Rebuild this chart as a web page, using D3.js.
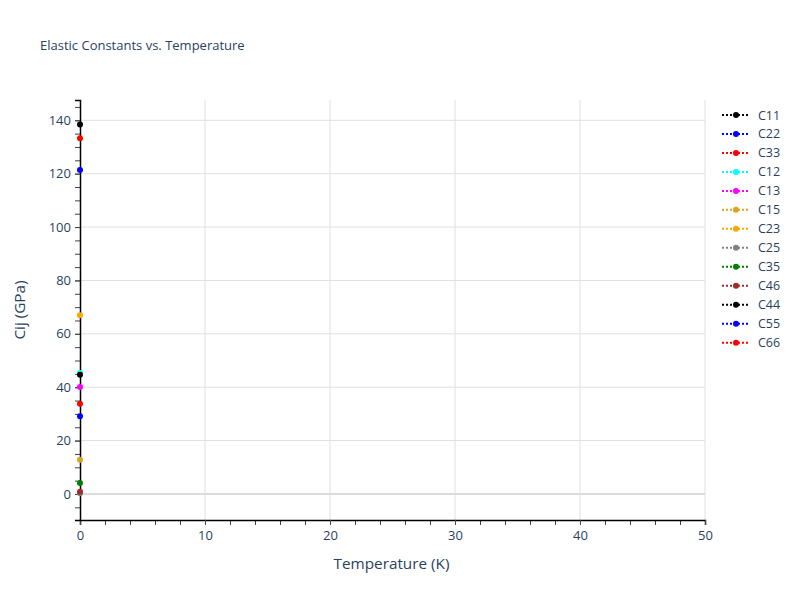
<!DOCTYPE html>
<html>
<head>
<meta charset="utf-8">
<script src="https://cdn.jsdelivr.net/npm/d3@7"></script>
<style>
  body { margin: 0; background: #fff; }
  text { font-family: "Open Sans", "Noto Sans", sans-serif; fill: #2a3f5f; }
</style>
</head>
<body>
<script>
// chart data
var temperature = [0];
var seriesNames = ["C11", "C22", "C33", "C12", "C13", "C15", "C23", "C25", "C35", "C46", "C44", "C55", "C66"];
var seriesColors = ["black", "blue", "red", "cyan", "magenta", "goldenrod", "orange", "gray", "green", "brown", "black", "blue", "red"];
var C11 = [138.4], C22 = [121.4], C33 = [133.3], C12 = [45.3], C13 = [40.1],
    C15 = [12.8], C23 = [67.0], C25 = [0.3], C35 = [4.1], C46 = [0.8],
    C44 = [44.7], C55 = [29.1], C66 = [33.8];
var seriesValues = [C11, C22, C33, C12, C13, C15, C23, C25, C35, C46, C44, C55, C66];
var xTicks = [0, 10, 20, 30, 40, 50];
var yTicks = [0, 20, 40, 60, 80, 100, 120, 140];

var W = 800, H = 600;
var margin = {top: 100, right: 95, bottom: 80, left: 80};
var width = W - margin.left - margin.right,
    height = H - margin.top - margin.bottom;

var svg = d3.select("body").append("svg")
  .attr("width", W).attr("height", H);

var x = d3.scaleLinear().domain([0, 50]).range([0, width]);
var y = d3.scaleLinear().domain([-9.75, 147.6]).range([height, 0]);

var g = svg.append("g").attr("transform", "translate(" + margin.left + "," + margin.top + ")");

// grid lines
g.selectAll("line.xgrid").data(xTicks.slice(1)).enter().append("line")
  .attr("x1", d => x(d)).attr("x2", d => x(d))
  .attr("y1", 0).attr("y2", height)
  .attr("stroke", "#e0e0e0").attr("stroke-width", 1);
g.selectAll("line.ygrid").data(yTicks.slice(1)).enter().append("line")
  .attr("x1", 0).attr("x2", width)
  .attr("y1", d => y(d)).attr("y2", d => y(d))
  .attr("stroke", "#e0e0e0").attr("stroke-width", 1);
// zero line
g.append("line")
  .attr("x1", 0).attr("x2", width)
  .attr("y1", y(0)).attr("y2", y(0))
  .attr("stroke", "#dcdcdc").attr("stroke-width", 2);

// minor ticks
var xMinor = d3.range(0, 50.01, 2);
var yMinor = d3.range(-5, 146, 5);
g.append("g").attr("transform", "translate(0," + height + ")")
  .call(d3.axisBottom(x).tickValues(xMinor).tickSize(5).tickFormat(""))
  .call(a => a.select(".domain").remove())
  .selectAll("line").attr("stroke", "#444");
g.append("g")
  .call(d3.axisLeft(y).tickValues(yMinor).tickSize(5).tickFormat(""))
  .call(a => a.select(".domain").remove())
  .selectAll("line").attr("stroke", "#444");

// axes
var xAxis = g.append("g").attr("transform", "translate(0," + height + ")")
  .call(d3.axisBottom(x).tickValues(xTicks).tickSize(5).tickPadding(6));
var yAxis = g.append("g")
  .call(d3.axisLeft(y).tickValues(yTicks).tickSize(5).tickPadding(4));
[xAxis, yAxis].forEach(function(a) {
  a.select(".domain").attr("stroke", "black").attr("stroke-width", 1.5);
  a.selectAll(".tick line").attr("stroke", "#444");
  a.selectAll(".tick text").style("font-size", "13px").style("font-family", "'Open Sans', sans-serif").attr("fill", "#2a3f5f");
});

// series
var line = d3.line().x((d, i) => x(temperature[i])).y(d => y(d));
seriesValues.forEach(function(vals, k) {
  g.append("path").datum(vals)
    .attr("d", line)
    .attr("fill", "none")
    .attr("stroke", seriesColors[k])
    .attr("stroke-width", 2)
    .attr("stroke-dasharray", "2,2");
  g.selectAll("circle.s" + k).data(vals).enter().append("circle")
    .attr("cx", (d, i) => x(temperature[i]))
    .attr("cy", d => y(d))
    .attr("r", 3)
    .attr("fill", seriesColors[k]);
});

// titles
svg.append("text").attr("x", 40).attr("y", 50)
  .style("font-size", "13px").text("Elastic Constants vs. Temperature");
svg.append("text").attr("x", margin.left + width / 2 - 1).attr("y", 569)
  .attr("text-anchor", "middle").style("font-size", "15.3px").text("Temperature (K)");
svg.append("text")
  .attr("transform", "translate(25," + (margin.top + height / 2) + ") rotate(-90)")
  .attr("text-anchor", "middle").style("font-size", "15.3px").text("Cij (GPa)");

// legend
var legend = svg.append("g").attr("transform", "translate(722,115)");
seriesNames.forEach(function(name, k) {
  var item = legend.append("g").attr("transform", "translate(0," + (k * 18.97) + ")");
  item.append("line").attr("x1", 0).attr("x2", 28).attr("y1", 0).attr("y2", 0)
    .attr("stroke", seriesColors[k]).attr("stroke-width", 2).attr("stroke-dasharray", "2,2");
  item.append("circle").attr("cx", 14).attr("cy", 0).attr("r", 3).attr("fill", seriesColors[k]);
  item.append("text").attr("x", 36).attr("y", 4.5).style("font-size", "12.5px").text(name);
});
</script>
</body>
</html>
